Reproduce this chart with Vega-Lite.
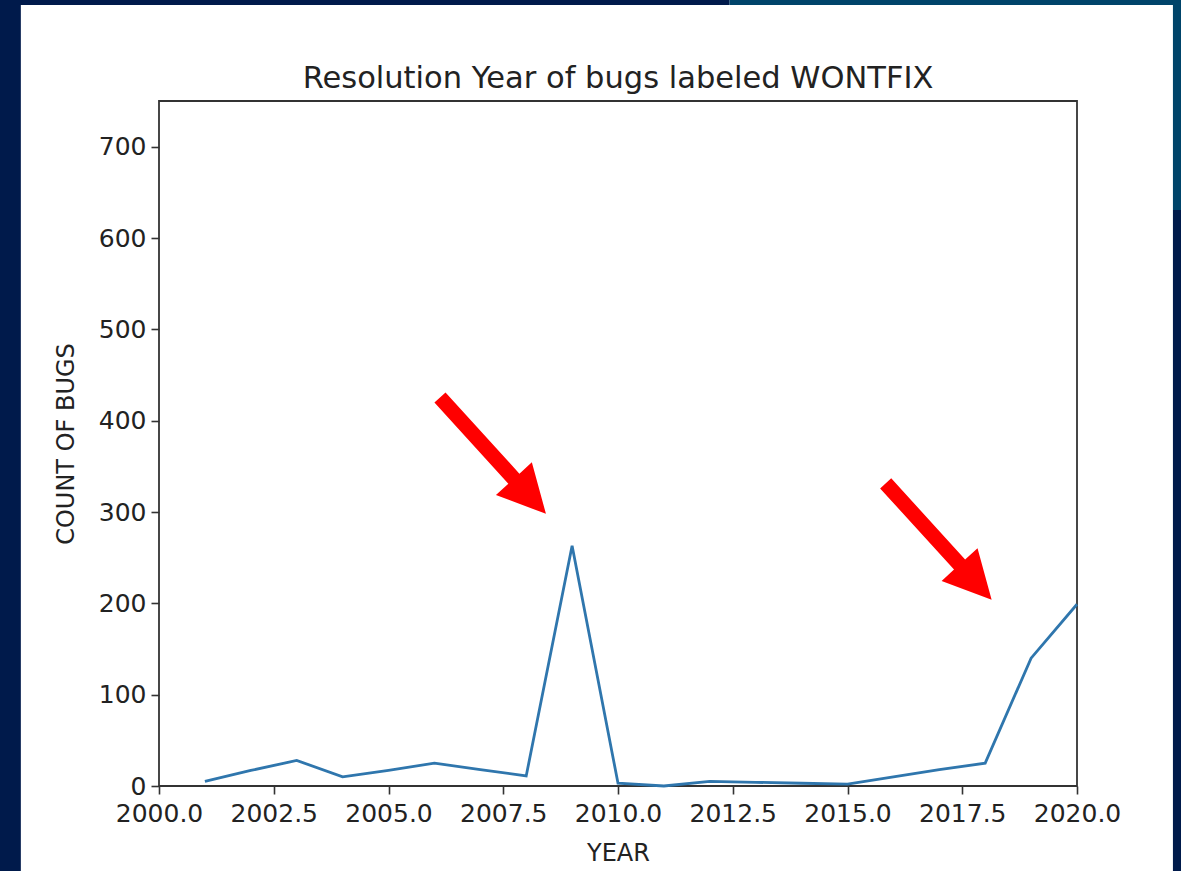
{
  "$schema": "https://vega.github.io/schema/vega-lite/v6.json",
  "autosize": {"type": "none"},
  "width": 918,
  "height": 685,
  "padding": {"left": 159, "top": 101, "right": 104, "bottom": 85},
  "background": "#ffffff",
  "config": {
    "view": {"stroke": null},
    "font": "DejaVu Sans",
    "axis": {
      "grid": false,
      "domain": false,
      "tickColor": "#333333",
      "tickWidth": 1.6,
      "tickSize": 8,
      "labelFont": "DejaVu Sans",
      "labelFontSize": 25,
      "labelColor": "#222222",
      "labelPadding": 5,
      "titleFont": "DejaVu Sans",
      "titleFontSize": 24,
      "titleFontWeight": "normal",
      "titleColor": "#222222"
    }
  },
  "title": {
    "text": "Resolution Year of bugs labeled WONTFIX",
    "font": "DejaVu Sans",
    "fontSize": 30.5,
    "fontWeight": "normal",
    "color": "#222222",
    "anchor": "middle",
    "baseline": "alphabetic",
    "offset": -119
  },
  "datasets": {
    "bugs": [
      {"year": 2001, "count": 5},
      {"year": 2002, "count": 17},
      {"year": 2003, "count": 28},
      {"year": 2004, "count": 10},
      {"year": 2005, "count": 17},
      {"year": 2006, "count": 25},
      {"year": 2007, "count": 18},
      {"year": 2008, "count": 11},
      {"year": 2009, "count": 263},
      {"year": 2010, "count": 3},
      {"year": 2011, "count": 0},
      {"year": 2012, "count": 5},
      {"year": 2013, "count": 4},
      {"year": 2014, "count": 3},
      {"year": 2015, "count": 2},
      {"year": 2016, "count": 10},
      {"year": 2017, "count": 18},
      {"year": 2018, "count": 25},
      {"year": 2019, "count": 140},
      {"year": 2020, "count": 199}
    ],
    "arrows": [
      {"year": 2008.43, "count": 298},
      {"year": 2018.14, "count": 204}
    ]
  },
  "layer": [
    {
      "data": {"values": [{}]},
      "mark": {"type": "rect", "color": "#001a4b"},
      "encoding": {
        "x": {"datum": 1996.0, "type": "quantitative", "scale": {"domain": [2000, 2020], "nice": false, "zero": false}},
        "x2": {"datum": 1996.99},
        "y": {"datum": 860.6, "type": "quantitative", "scale": {"domain": [0, 750], "nice": false}},
        "y2": {"datum": -120}
      }
    },
    {
      "data": {"values": [{}]},
      "mark": {"type": "rect", "color": "#001a4b"},
      "encoding": {
        "x": {"datum": 1996.0, "type": "quantitative"},
        "x2": {"datum": 2012.43},
        "y": {"datum": 860.6, "type": "quantitative"},
        "y2": {"datum": 855.1}
      }
    },
    {
      "data": {"values": [{}]},
      "mark": {"type": "rect", "color": "#00446a"},
      "encoding": {
        "x": {"datum": 2012.43, "type": "quantitative"},
        "x2": {"datum": 2023.5},
        "y": {"datum": 860.6, "type": "quantitative"},
        "y2": {"datum": 855.1}
      }
    },
    {
      "data": {"values": [{}]},
      "mark": {"type": "rect", "color": "#001a4b"},
      "encoding": {
        "x": {"datum": 2022.09, "type": "quantitative"},
        "x2": {"datum": 2023.5},
        "y": {"datum": 630.7, "type": "quantitative"},
        "y2": {"datum": -120}
      }
    },
    {
      "data": {"values": [{}]},
      "mark": {"type": "rect", "color": "#00446a"},
      "encoding": {
        "x": {"datum": 2022.09, "type": "quantitative"},
        "x2": {"datum": 2023.5},
        "y": {"datum": 860.6, "type": "quantitative"},
        "y2": {"datum": 630.7}
      }
    },
    {
      "data": {"values": [{}]},
      "mark": {"type": "rect", "fill": null, "fillOpacity": 0, "stroke": "#333333", "strokeWidth": 1.8},
      "encoding": {
        "x": {"datum": 2000, "type": "quantitative"},
        "x2": {"datum": 2020},
        "y": {"datum": 0, "type": "quantitative"},
        "y2": {"datum": 750}
      }
    },
    {
      "data": {"name": "bugs"},
      "mark": {"type": "line", "color": "#2f76ad", "strokeWidth": 2.8},
      "encoding": {
        "x": {"field": "year", "type": "quantitative",
          "scale": {"domain": [2000, 2020], "nice": false, "zero": false},
          "axis": {"title": "YEAR", "values": [2000, 2002.5, 2005, 2007.5, 2010, 2012.5, 2015, 2017.5, 2020], "format": ".1f", "labelFlush": false, "labelPadding": 7, "titlePadding": 15}},
        "y": {"field": "count", "type": "quantitative",
          "scale": {"domain": [0, 750], "nice": false},
          "axis": {"title": "COUNT OF BUGS", "values": [0, 100, 200, 300, 400, 500, 600, 700], "labelBaseline": "middle", "labelFlush": false, "titlePadding": 20}}
      }
    },
    {
      "data": {"name": "arrows"},
      "mark": {"type": "point", "filled": true, "color": "#ff0000", "opacity": 1, "size": 4, "strokeWidth": 0,
        "shape": "M0,0 L-14.1,-51.5 L-26.5,-40.2 L-100.4,-121.4 L-111.5,-111.3 L-37.6,-30.1 L-50,-18.8 Z"},
      "encoding": {
        "x": {"field": "year", "type": "quantitative"},
        "y": {"field": "count", "type": "quantitative"}
      }
    }
  ]
}
